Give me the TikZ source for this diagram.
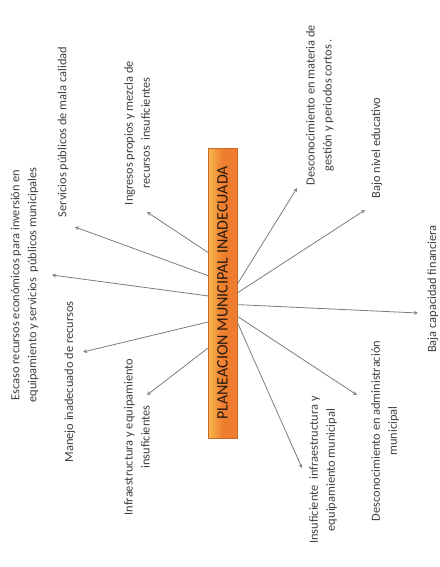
\documentclass[tikz,border=0pt]{standalone}
\usepackage{fontspec}
\setmainfont{Carlito}
\usetikzlibrary{calc}
\definecolor{boxorange}{HTML}{EF7D2F}
\definecolor{boxlight}{HTML}{F8B84C}
\definecolor{txtgray}{HTML}{3F3F3F}
\definecolor{arrgray}{HTML}{7C7C7C}
\tikzset{
  causa/.style={rotate=90, align=center, text=txtgray, inner sep=0pt,
    font=\fontsize{12.4}{17}\selectfont},
  flecha/.style={->, draw=arrgray, line width=0.8pt},
}

\begin{document}
\begin{tikzpicture}[x=1pt, y=-1pt, >=stealth]
    \useasboundingbox (0,0) rectangle (439,567);
    \node[minimum width=29pt, minimum height=290pt, inner sep=0pt,
      left color=boxlight, right color=boxorange, middle color=boxorange,
      draw=boxorange!85!black, line width=0.4pt,
      text=black!80!brown, font=\fontsize{16}{16}\selectfont] (box) at (222.5,293)
      {\rotatebox{90}{PLANEACION MUNICIPAL INADECUADA}};

    \node[causa] (escaso) at (24.5,285) {Escaso recursos económicos para inversión en\\equipamiento y servicios\ \ públicos municipales};
    \node[causa] (servicios) at (63,132) {Servicios públicos de mala calidad};
    \node[causa] (ingresos) at (137,133) {Ingresos propios y mezcla de\\recursos\ \ insuficientes};
    \node[causa] (manejo) at (70,382) {Manejo inadecuado de recursos};
    \node[causa] (infra) at (137,437) {Infraestructura y equipamiento\\insuficientes};
    \node[causa] (gestion) at (320,105) {Desconocimiento en materia de\\gestión y periodos cortos .};
    \node[causa] (educativo) at (377,148) {Bajo nivel educativo};
    \node[causa] (financiera) at (433,289) {Baja capacidad financiera};
    \node[causa] (admin) at (385,431) {Desconocimiento en administración\\municipal};
    \node[causa] (insuf) at (323,470) {Insuficiente\ \ infraestructura y\\equipamiento municipal};

    \coordinate (t1) at (147,212);
    \coordinate (t2) at (75,227);
    \coordinate (t3) at (52,275);
    \coordinate (t4) at (83,352);
    \coordinate (t5) at (147,395);
    \coordinate (t6) at (297,188);
    \coordinate (t7) at (365,210);
    \coordinate (t8) at (418,313);
    \coordinate (t9) at (357,395);
    \coordinate (t10) at (302,468);

    \draw[flecha] ($(box.north west)!.36!(box.south west)$) -- (t1);
    \draw[flecha] ($(box.north west)!.44!(box.south west)$) -- (t2);
    \draw[flecha] ($(box.north west)!.51!(box.south west)$) -- (t3);
    \draw[flecha] ($(box.north west)!.60!(box.south west)$) -- (t4);
    \draw[flecha] ($(box.north west)!.69!(box.south west)$) -- (t5);
    \draw[flecha] ($(box.north east)!.47!(box.south east)$) -- (t6);
    \draw[flecha] ($(box.north east)!.50!(box.south east)$) -- (t7);
    \draw[flecha] ($(box.north east)!.54!(box.south east)$) -- (t8);
    \draw[flecha] ($(box.north east)!.58!(box.south east)$) -- (t9);
    \draw[flecha] ($(box.north east)!.60!(box.south east)$) -- (t10);
\end{tikzpicture}
\end{document}
